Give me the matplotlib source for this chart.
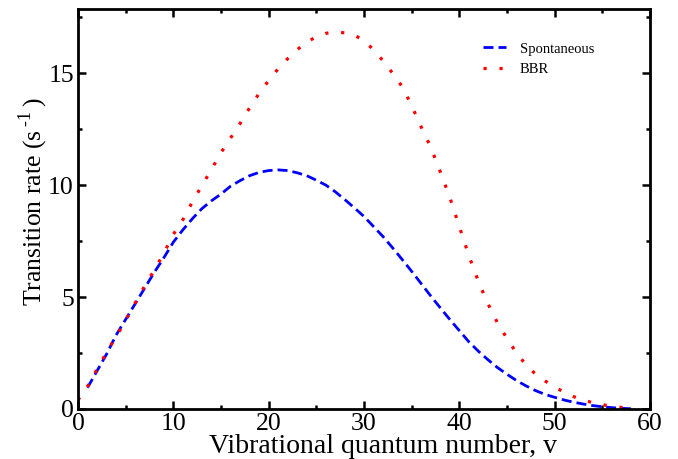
import numpy as np
import matplotlib
matplotlib.use("Agg")
import matplotlib.pyplot as plt
from matplotlib.ticker import MultipleLocator

# Data
v_spont = np.arange(1, 59)
rate_spont = [
    0.95, 1.7, 2.45, 3.3, 4.0, 4.7, 5.4, 6.1, 6.75, 7.45,
    8.0, 8.5, 8.95, 9.3, 9.6, 9.95, 10.2, 10.42, 10.57, 10.65,
    10.68, 10.65, 10.55, 10.42, 10.22, 10.0, 9.7, 9.35, 8.98, 8.6,
    8.15, 7.7, 7.2, 6.68, 6.15, 5.6, 5.05, 4.52, 4.0, 3.5,
    3.0, 2.58, 2.2, 1.85, 1.55, 1.27, 1.03, 0.82, 0.65, 0.52,
    0.4, 0.3, 0.22, 0.15, 0.1, 0.06, 0.03, 0.01,
]

v_bbr = np.arange(0, 59)
rate_bbr = [
    0.4, 1.0, 1.78, 2.53, 3.23, 3.95, 4.73, 5.5, 6.2, 6.95,
    7.8, 8.45, 9.25, 9.98, 10.7, 11.45, 12.1, 12.75, 13.45, 14.1,
    14.67, 15.2, 15.65, 16.05, 16.4, 16.62, 16.78, 16.85, 16.8, 16.7,
    16.45, 16.05, 15.55, 15.0, 14.4, 13.55, 12.6, 11.7, 10.6, 9.45,
    8.15, 6.85, 5.7, 4.7, 3.85, 3.15, 2.5, 1.97, 1.55, 1.25,
    0.98, 0.75, 0.55, 0.4, 0.28, 0.19, 0.12, 0.07, 0.03,
]

plt.rcParams["font.family"] = ["Liberation Serif", "DejaVu Serif"]
plt.rcParams["mathtext.fontset"] = "custom"
plt.rcParams["mathtext.rm"] = "Liberation Serif"

fig = plt.figure(figsize=(6.78, 4.59), dpi=100)
ax = fig.add_axes([0.115, 0.109, 0.8437, 0.871])

ax.plot(v_spont, rate_spont, color="blue", lw=2.0,
        dashes=(3.6, 1.8), label="Spontaneous")
ax.plot(v_bbr, rate_bbr, color="red", lw=2.3,
        dashes=(1, 4), label="BBR")

ax.set_xlim(0, 60)
ax.set_ylim(0, 17.86)
ax.xaxis.set_major_locator(MultipleLocator(10))
ax.xaxis.set_minor_locator(MultipleLocator(5))
ax.yaxis.set_major_locator(MultipleLocator(5))
ax.yaxis.set_minor_locator(MultipleLocator(2.5))
ax.tick_params(which="both", direction="in", top=True, right=True,
               width=1.8, labelsize=18.5, pad=3)
ax.tick_params(which="major", length=6)
ax.tick_params(which="minor", length=3)
for s in ax.spines.values():
    s.set_linewidth(2.0)

ax.set_xlabel("Vibrational quantum number, v", fontsize=20, labelpad=-1)
ax.xaxis.label.set_x(0.534)
ax.set_ylabel(r"Transition rate (s$^{\,\text{-1}}$$\,$)", fontsize=18.5, labelpad=-1.5)
ax.yaxis.label.set_y(0.517)

ax.legend(loc="upper right", bbox_to_anchor=(0.925, 0.95), frameon=False,
          fontsize=10.5, handlelength=1.6, handletextpad=0.9, labelspacing=0.5)

fig.savefig("out.png", dpi=100)
